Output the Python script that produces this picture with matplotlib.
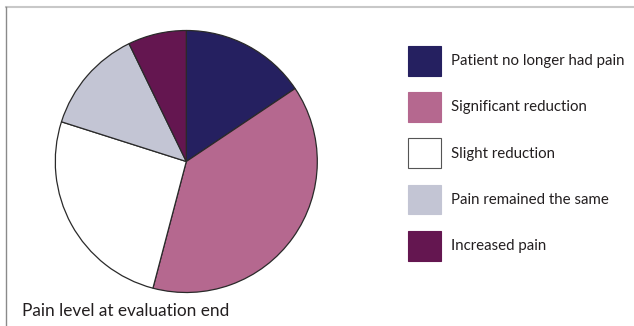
import matplotlib
matplotlib.use("Agg")
import matplotlib.pyplot as plt
from matplotlib.patches import Patch
from matplotlib.lines import Line2D

# pain level shares (%) at end of evaluation, clockwise from 12 o'clock
categories = ["Patient no longer had pain", "Significant reduction", "Slight reduction",
              "Pain remained the same", "Increased pain"]
shares = [15.6, 38.5, 25.8, 12.9, 7.2]
colors = ["#252060", "#b5688f", "#ffffff", "#c3c5d4", "#641650"]

plt.rcParams["font.family"] = ["Lato", "DejaVu Sans"]

W, H = 634, 326
fig = plt.figure(figsize=(W / 100, H / 100), dpi=100)

# pie axes: centre (186, 161) px, radius 131 px
cx, cy, r = 186.3, 161.5, 131
ax = fig.add_axes([(cx - r) / W, (H - cy - r) / H, 2 * r / W, 2 * r / H])
ax.pie(shares, colors=colors, startangle=90, counterclock=False,
       wedgeprops=dict(edgecolor="#2a2a2a", linewidth=0.9))
ax.set_xlim(-1, 1)
ax.set_ylim(-1, 1)
ax.set_aspect("equal")
for p in ax.patches:
    p.set_clip_on(False)

# legend
handles = [Patch(facecolor=c, edgecolor=("#555555" if c == "#ffffff" else c), linewidth=0.8)
           for c in colors]
fs = 10.8
fig.legend(handles, categories, loc="upper left", bbox_to_anchor=(407.5 / W, 1 - 45.7 / H),
           frameon=False, fontsize=fs, handlelength=2.2, handleheight=2.68,
           labelspacing=1.1, handletextpad=0.72, borderpad=0, borderaxespad=0,
           labelcolor="#231f20")

fig.text(21.5 / W, 1 - 316.5 / H, "Pain level at evaluation end", fontsize=12.4,
         color="#231f20", va="baseline", ha="left")

# frame lines at top and left
fig.add_artist(Line2D([5.5 / W, 1], [1 - 6.5 / H, 1 - 6.5 / H], color="#c8c8c8", linewidth=1.5))
fig.add_artist(Line2D([5.5 / W, 5.5 / W], [0, 1 - 6.5 / H], color="#8a8a8a", linewidth=1.0))

fig.savefig("out.png", dpi=100, facecolor="white")
